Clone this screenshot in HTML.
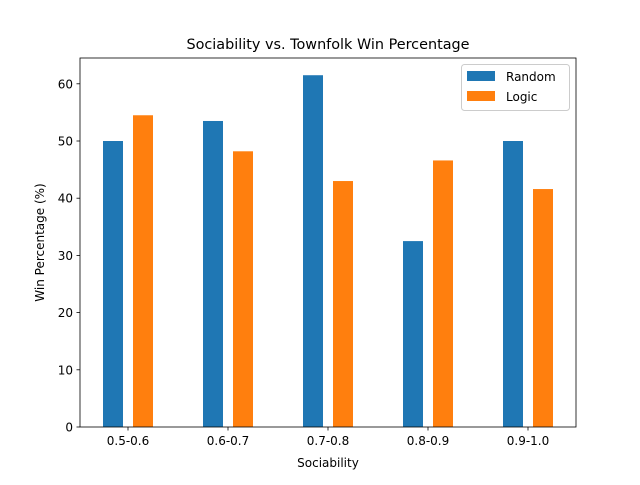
<!DOCTYPE html>
<html><head><meta charset="utf-8"><style>
body{margin:0;background:#fff}
svg text{font-family:"DejaVu Sans","Liberation Sans",sans-serif;fill:#000}
</style></head><body>
<svg width="640" height="480" xmlns="http://www.w3.org/2000/svg">
<rect width="640" height="480" fill="#fff"/>
<g id="plot"></g>
<text x="328" y="49" font-size="14.4" text-anchor="middle">Sociability vs. Townfolk Win Percentage</text>
<text x="328" y="467" font-size="12" text-anchor="middle">Sociability</text>
<text transform="translate(44,242.5) rotate(-90)" font-size="12" text-anchor="middle">Win Percentage (%)</text>
<g>
<rect x="461.5" y="64.5" width="108" height="46" rx="3" fill="#fff" fill-opacity="0.8" stroke="#ccc"/>
<rect x="467" y="71" width="28" height="10" fill="#1f77b4"/>
<text x="506" y="81" font-size="12">Random</text>
<rect x="467" y="91" width="28" height="10" fill="#ff7f0e"/>
<text x="506" y="101" font-size="12">Logic</text>
</g>
</svg>
<script>
const categories=["0.5-0.6","0.6-0.7","0.7-0.8","0.8-0.9","0.9-1.0"];
const randomValues=[50,53.5,61.5,32.5,50];
const logicValues=[54.5,48.2,43,46.6,41.6];
const yTicks=[0,10,20,30,40,50,60];
const L=80,R=576,T=58,B=427;
const yScale=v=>B-v*5.72;
const xScale=i=>L+48+i*100;
const NS="http://www.w3.org/2000/svg";
const g=document.getElementById('plot');
function mk(t,a){const e=document.createElementNS(NS,t);for(const k in a)e.setAttribute(k,a[k]);g.appendChild(e);return e;}
categories.forEach((c,i)=>{
 const cx=xScale(i);
 let b=mk('rect',{x:cx-25,y:yScale(randomValues[i]),width:20,height:B-yScale(randomValues[i]),fill:'#1f77b4'});
 
 
 b=mk('rect',{x:cx+5,y:yScale(logicValues[i]),width:20,height:B-yScale(logicValues[i]),fill:'#ff7f0e'});
 
 
 mk('line',{x1:cx,x2:cx,y1:B,y2:B+3.5,stroke:'#000','stroke-width':0.8});
 const t=mk('text',{x:cx,y:B+18,'font-size':12,'text-anchor':'middle'});t.textContent=c;
 
 
});
yTicks.forEach(v=>{
 const y=yScale(v);
 mk('line',{x1:L-3.5,x2:L,y1:y,y2:y,stroke:'#000','stroke-width':0.8});
 const t=mk('text',{x:L-7,y:y+4.5,'font-size':12,'text-anchor':'end'});t.textContent=v;
 
 
});
const f=mk('rect',{x:L,y:T,width:R-L,height:B-T,fill:'none',stroke:'#000','stroke-width':0.8});


</script>
</body></html>
